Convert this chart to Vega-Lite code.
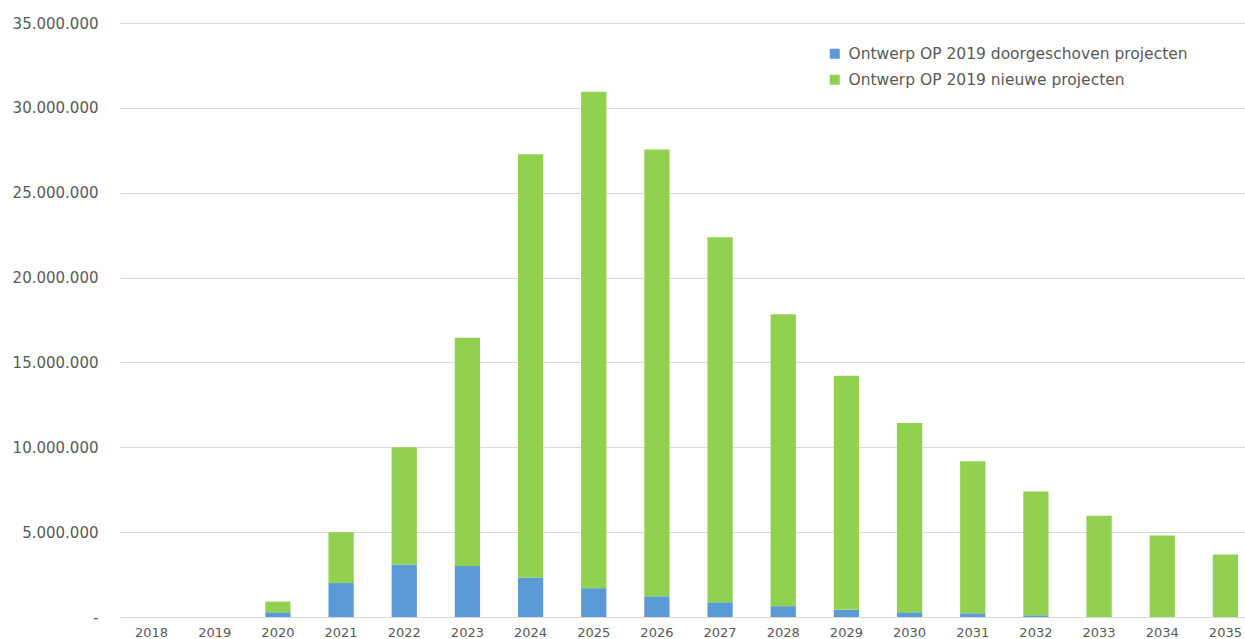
{
  "$schema": "https://vega.github.io/schema/vega-lite/v6.json",
  "autosize": {"type": "none"},
  "padding": {"left": 120, "top": 23, "right": -12, "bottom": 21},
  "width": 1137,
  "height": 594,
  "background": "white",
  "config": {"view": {"stroke": null}, "font": "DejaVu Sans"},
  "data": {"values": [
    {"jaar": "2018", "reeks": "Ontwerp OP 2019 doorgeschoven projecten", "bedrag": 0},
    {"jaar": "2018", "reeks": "Ontwerp OP 2019 nieuwe projecten", "bedrag": 0},
    {"jaar": "2019", "reeks": "Ontwerp OP 2019 doorgeschoven projecten", "bedrag": 0},
    {"jaar": "2019", "reeks": "Ontwerp OP 2019 nieuwe projecten", "bedrag": 0},
    {"jaar": "2020", "reeks": "Ontwerp OP 2019 doorgeschoven projecten", "bedrag": 280000},
    {"jaar": "2020", "reeks": "Ontwerp OP 2019 nieuwe projecten", "bedrag": 630000},
    {"jaar": "2021", "reeks": "Ontwerp OP 2019 doorgeschoven projecten", "bedrag": 2000000},
    {"jaar": "2021", "reeks": "Ontwerp OP 2019 nieuwe projecten", "bedrag": 3000000},
    {"jaar": "2022", "reeks": "Ontwerp OP 2019 doorgeschoven projecten", "bedrag": 3100000},
    {"jaar": "2022", "reeks": "Ontwerp OP 2019 nieuwe projecten", "bedrag": 6900000},
    {"jaar": "2023", "reeks": "Ontwerp OP 2019 doorgeschoven projecten", "bedrag": 3000000},
    {"jaar": "2023", "reeks": "Ontwerp OP 2019 nieuwe projecten", "bedrag": 13450000},
    {"jaar": "2024", "reeks": "Ontwerp OP 2019 doorgeschoven projecten", "bedrag": 2320000},
    {"jaar": "2024", "reeks": "Ontwerp OP 2019 nieuwe projecten", "bedrag": 24950000},
    {"jaar": "2025", "reeks": "Ontwerp OP 2019 doorgeschoven projecten", "bedrag": 1700000},
    {"jaar": "2025", "reeks": "Ontwerp OP 2019 nieuwe projecten", "bedrag": 29250000},
    {"jaar": "2026", "reeks": "Ontwerp OP 2019 doorgeschoven projecten", "bedrag": 1220000},
    {"jaar": "2026", "reeks": "Ontwerp OP 2019 nieuwe projecten", "bedrag": 26330000},
    {"jaar": "2027", "reeks": "Ontwerp OP 2019 doorgeschoven projecten", "bedrag": 870000},
    {"jaar": "2027", "reeks": "Ontwerp OP 2019 nieuwe projecten", "bedrag": 21500000},
    {"jaar": "2028", "reeks": "Ontwerp OP 2019 doorgeschoven projecten", "bedrag": 640000},
    {"jaar": "2028", "reeks": "Ontwerp OP 2019 nieuwe projecten", "bedrag": 17200000},
    {"jaar": "2029", "reeks": "Ontwerp OP 2019 doorgeschoven projecten", "bedrag": 420000},
    {"jaar": "2029", "reeks": "Ontwerp OP 2019 nieuwe projecten", "bedrag": 13800000},
    {"jaar": "2030", "reeks": "Ontwerp OP 2019 doorgeschoven projecten", "bedrag": 280000},
    {"jaar": "2030", "reeks": "Ontwerp OP 2019 nieuwe projecten", "bedrag": 11150000},
    {"jaar": "2031", "reeks": "Ontwerp OP 2019 doorgeschoven projecten", "bedrag": 220000},
    {"jaar": "2031", "reeks": "Ontwerp OP 2019 nieuwe projecten", "bedrag": 8950000},
    {"jaar": "2032", "reeks": "Ontwerp OP 2019 doorgeschoven projecten", "bedrag": 100000},
    {"jaar": "2032", "reeks": "Ontwerp OP 2019 nieuwe projecten", "bedrag": 7300000},
    {"jaar": "2033", "reeks": "Ontwerp OP 2019 doorgeschoven projecten", "bedrag": 0},
    {"jaar": "2033", "reeks": "Ontwerp OP 2019 nieuwe projecten", "bedrag": 5970000},
    {"jaar": "2034", "reeks": "Ontwerp OP 2019 doorgeschoven projecten", "bedrag": 0},
    {"jaar": "2034", "reeks": "Ontwerp OP 2019 nieuwe projecten", "bedrag": 4800000},
    {"jaar": "2035", "reeks": "Ontwerp OP 2019 doorgeschoven projecten", "bedrag": 0},
    {"jaar": "2035", "reeks": "Ontwerp OP 2019 nieuwe projecten", "bedrag": 3680000}
  ]},
  "transform": [{"calculate": "datum.reeks == 'Ontwerp OP 2019 doorgeschoven projecten' ? 0 : 1", "as": "volgorde"}],
  "mark": {"type": "bar"},
  "encoding": {
    "x": {
      "field": "jaar", "type": "ordinal",
      "scale": {"paddingInner": 0.6, "paddingOuter": 0.3},
      "axis": {"title": null, "labelAngle": 0, "ticks": false, "domain": false, "labelFontSize": 13, "labelColor": "#595959", "labelPadding": 9, "grid": false}
    },
    "y": {
      "field": "bedrag", "type": "quantitative", "stack": "zero",
      "scale": {"domain": [0, 35000000], "nice": false},
      "axis": {
        "title": null, "values": [0, 5000000, 10000000, 15000000, 20000000, 25000000, 30000000, 35000000],
        "labelExpr": "datum.value == 0 ? '-' : replace(format(datum.value, ','), regexp(',', 'g'), '.')",
        "ticks": false, "domain": false, "labelFontSize": 15, "labelColor": "#595959", "labelPadding": 22,
        "gridColor": "#d9d9d9", "gridWidth": 1
      }
    },
    "color": {
      "field": "reeks", "type": "nominal",
      "scale": {"domain": ["Ontwerp OP 2019 doorgeschoven projecten", "Ontwerp OP 2019 nieuwe projecten"], "range": ["#5B9BD5", "#92D050"]},
      "legend": {"title": null, "orient": "none", "legendX": 707, "legendY": 23, "symbolType": "square", "symbolSize": 100, "symbolStrokeWidth": 0, "labelFontSize": 15.5, "labelColor": "#595959", "rowPadding": 9, "labelOffset": 6, "labelLimit": 500}
    },
    "order": {"field": "volgorde", "type": "quantitative"}
  }
}
